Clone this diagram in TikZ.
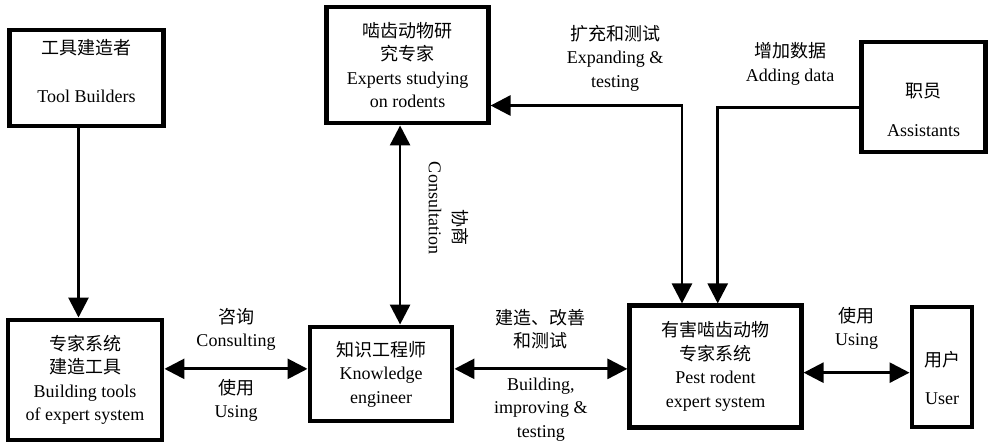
\documentclass[tikz,border=0pt]{standalone}
\usepackage{fontspec}
\setmainfont{Liberation Serif}
\newfontfamily\cjk{Noto Sans CJK SC}
\usetikzlibrary{arrows.meta}
\newcommand{\zh}[1]{{\cjk #1}}
\tikzset{
	box/.style={draw, line width=3.5pt, inner sep=0pt, align=center},
	lbl/.style={align=center, inner sep=1pt},
	link/.style={line width=2pt, -{Triangle[length=0.5cm,width=0.5cm]}},
	both/.style={line width=2pt, {Triangle[length=0.5cm,width=0.5cm]}-{Triangle[length=0.5cm,width=0.5cm]}},
}

\begin{document}
\begin{tikzpicture}[x=0.025cm, y=-0.025cm, font=\fontsize{12.8}{16.7}\selectfont]
			%%%%% START %%%%%
			\useasboundingbox (0,0) rectangle (990,444);
			
			% boxes
			\node[box, minimum width=3.83cm, minimum height=2.4cm] (tool) at (86.5,78) {};
			\node[lbl] (tool-t) at (86.5,71) {\zh{工具建造者}\\[17pt]Tool Builders};
			
			\node[box, minimum width=3.85cm, minimum height=3cm] (build) at (85,380)
				{\zh{专家系统}\\\zh{建造工具}\\Building tools\\of expert system};
			
			\node[box, minimum width=4.03cm, minimum height=2.9cm] (exp) at (407.5,65)
				{\zh{啮齿动物研}\\\zh{究专家}\\Experts studying\\on rodents};
			
			\node[box, minimum width=3.55cm, minimum height=2.35cm] (know) at (381,374)
				{\zh{知识工程师}\\Knowledge\\engineer};
			
			\node[box, minimum width=3.08cm, minimum height=2.75cm] (asst) at (923.5,97) {};
			\node[lbl] (asst-t) at (923.5,110) {\zh{职员}\\[11pt]Assistants};
			
			\node[box, minimum width=4.28cm, minimum height=3.03cm] (pest) at (715.5,366.5)
				{\zh{有害啮齿动物}\\\zh{专家系统}\\Pest rodent\\expert system};
			
			\node[box, minimum width=1.5cm, minimum height=3cm] (user) at (942,367) {};
			\node[lbl] (user-t) at (942,378) {\zh{用户}\\[11pt]User};
			
			% connectors
			\draw[link] ([xshift=-2mm]tool.south) -- ([xshift=-2mm]tool.south |- build.north);
			
			\draw[both] (build.east |- know.176) -- (know.176)
				node[lbl, midway, above=0.38cm] {\zh{咨询}\\Consulting}
				node[lbl, midway, below=0.18cm] {\zh{使用}\\Using};
			
			\draw[both] (know.4) -- (know.4 -| pest.west)
				node[lbl, midway, above=0.42cm] {\zh{建造、改善}\\\zh{和测试}}
				node[lbl, midway, below=0.15cm] {Building,\\improving \&\\testing};
			
			\draw[both] (pest.-4) -- (pest.-4 -| user.west)
				node[lbl, midway, above=0.5cm] {\zh{使用}\\Using};
			
			\draw[both] (exp.-97) -- (exp.-97 |- know.north);
			\node[lbl, rotate=-90] (consult) at (435,208) {Consultation};
			\node[lbl, rotate=-90] (consult-zh) at (460,228) {\zh{协商}};
			
			\draw[both] (exp.-26) -| (pest.118);
			\node[lbl] (expand) at (615,58) {\zh{扩充和测试}\\Expanding \&\\testing};
			
			\draw[link] (asst.189) -| (pest.88);
			\node[lbl] (adding) at (790,64) {\zh{增加数据}\\Adding data};
			
			%%%%% END %%%%%
\end{tikzpicture}
\end{document}
